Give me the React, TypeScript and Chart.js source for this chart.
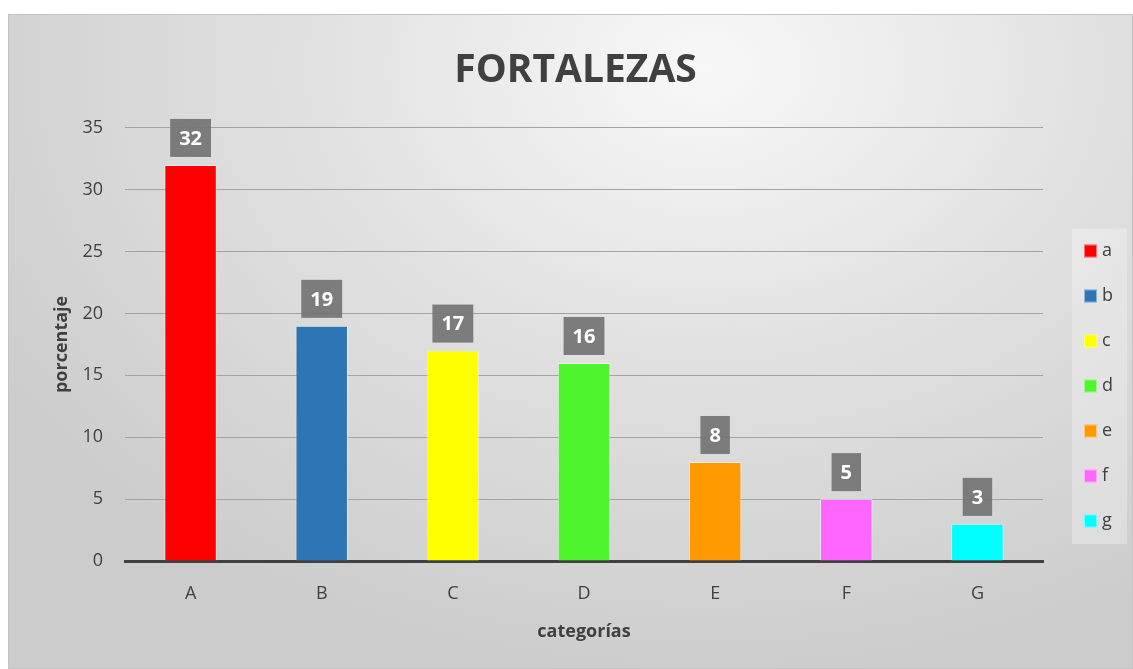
import React, { useEffect, useRef } from "react";
import { Chart, registerables } from "chart.js";

Chart.register(...registerables);

const categories = ["A", "B", "C", "D", "E", "F", "G"];
const values = [32, 19, 17, 16, 8, 5, 3];
const legendLabels = ["a", "b", "c", "d", "e", "f", "g"];
const barColors = ["#ff0000", "#2e75b6", "#ffff00", "#4ef52c", "#ff9900", "#ff66ff", "#00ffff"];
const yMin = 0;
const yMax = 35;
const yStep = 5;

const FONT = "'Open Sans', 'Noto Sans', sans-serif";
const TEXT = "#404040";

const dataLabelPlugin = {
  id: "dataLabels",
  afterDatasetsDraw(chart: any) {
    const ctx = chart.ctx;
    const meta = chart.getDatasetMeta(0);
    ctx.save();
    ctx.font = `bold 20px ${FONT}`;
    meta.data.forEach((bar: any, i: number) => {
      const text = String(values[i]);
      const tw = ctx.measureText(text).width;
      const w = tw + 18;
      const h = 38;
      const yBottom = bar.y - 8;
      ctx.fillStyle = "rgba(118,118,118,0.95)";
      ctx.fillRect(bar.x - w / 2, yBottom - h, w, h);
      ctx.fillStyle = "#ffffff";
      ctx.textAlign = "center";
      ctx.textBaseline = "middle";
      ctx.fillText(text, bar.x, yBottom - h / 2 + 1);
    });
    ctx.restore();
  },
};

const legendPlugin = {
  id: "customLegend",
  afterDraw(chart: any) {
    const { ctx, chartArea } = chart;
    const spacing = 45;
    const n = legendLabels.length;
    const last = chartArea.bottom - 40;
    const first = last - (n - 1) * spacing;
    const left = chartArea.right + 29;
    const right = chartArea.right + 84;
    ctx.save();
    ctx.fillStyle = "rgba(255,255,255,0.28)";
    ctx.fillRect(left, first - 22, right - left, last - first + 45);
    ctx.font = `18px ${FONT}`;
    ctx.textAlign = "left";
    ctx.textBaseline = "middle";
    legendLabels.forEach((lab, i) => {
      const cy = first + i * spacing;
      ctx.fillStyle = barColors[i];
      ctx.fillRect(left + 12, cy - 6.5, 13, 13);
      ctx.strokeStyle = "rgba(255,255,255,0.45)";
      ctx.lineWidth = 1;
      ctx.strokeRect(left + 12.5, cy - 6, 12, 12);
      ctx.fillStyle = TEXT;
      ctx.fillText(lab, left + 30, cy);
    });
    ctx.restore();
  },
};

export default function App() {
  const canvasRef = useRef<HTMLCanvasElement | null>(null);

  useEffect(() => {
    if (!canvasRef.current) return;
    const chart = new Chart(canvasRef.current, {
      type: "bar",
      data: {
        labels: categories,
        datasets: [
          {
            data: values,
            backgroundColor: barColors,
            borderColor: "rgba(255,255,255,0.45)",
            borderWidth: 1,
            barPercentage: 0.4,
            categoryPercentage: 1.0,
          },
        ],
      },
      options: {
        animation: false,
        responsive: true,
        maintainAspectRatio: false,
        layout: { padding: { left: 10, right: 0, top: 0, bottom: 0 } },
        plugins: {
          legend: { display: false },
          tooltip: { enabled: false },
          title: {
            display: true,
            text: "FORTALEZAS",
            color: TEXT,
            font: { family: FONT, size: 39, weight: "bold" },
            padding: { top: 32, bottom: 34 },
          },
        },
        scales: {
          x: {
            afterFit(scale: any) {
              scale.height = 107;
            },
            grid: { display: false, drawTicks: false },
            border: { display: true, color: "#404040", width: 3 },
            ticks: { color: TEXT, font: { family: FONT, size: 18 }, padding: 22 },
            title: {
              display: true,
              text: "categorías",
              color: TEXT,
              font: { family: FONT, size: 18, weight: "bold" },
              padding: { top: 25, bottom: 25 },
            },
          },
          y: {
            min: yMin,
            max: yMax,
            afterFit(scale: any) {
              scale.width = 106;
            },
            grid: { color: "#a3a3a3", drawTicks: false },
            border: { display: false },
            ticks: { stepSize: yStep, color: TEXT, font: { family: FONT, size: 18 }, padding: 22 },
            title: {
              display: true,
              text: "porcentaje",
              color: TEXT,
              font: { family: FONT, size: 18, weight: "bold" },
              padding: { top: 32, bottom: 0 },
            },
          },
          legendSpace: {
            type: "linear",
            position: "right",
            display: true,
            afterFit(scale: any) {
              scale.width = 89;
            },
            grid: { display: false, drawTicks: false },
            border: { display: false },
            ticks: { display: false },
          },
        },
      },
      plugins: [dataLabelPlugin, legendPlugin],
    });
    return () => chart.destroy();
  }, []);

  return (
    <div
      style={{
        position: "absolute",
        left: 8,
        top: 14,
        width: 1125,
        height: 655,
        boxSizing: "border-box",
        border: "1px solid #c4c4c4",
        background:
          "radial-gradient(ellipse 75% 95% at 62% 8%, #f8f8f8 0%, #e2e2e2 45%, #cccccc 100%)",
      }}
    >
      <canvas ref={canvasRef} />
    </div>
  );
}
